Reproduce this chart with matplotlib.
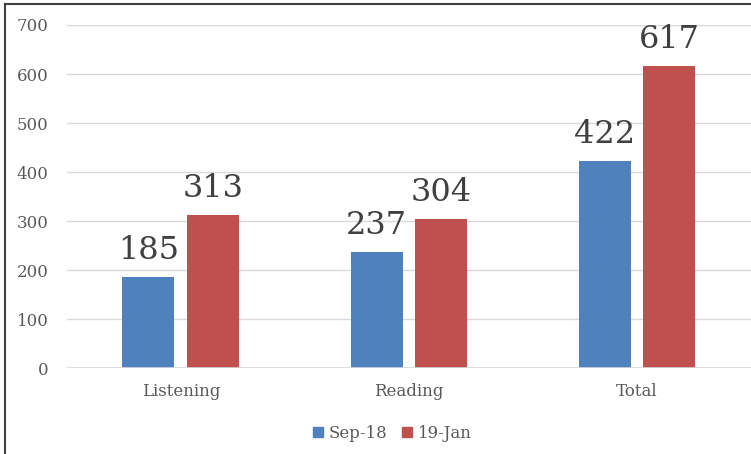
import matplotlib
matplotlib.use('Agg')
import matplotlib.pyplot as plt
from matplotlib.lines import Line2D
import numpy as np

plt.rcParams['font.family'] = ['DejaVu Serif']

categories = ['Listening', 'Reading', 'Total']
series_names = ['Sep-18', '19-Jan']
sep18 = [185, 237, 422]
jan19 = [313, 304, 617]
y_ticks = [0, 100, 200, 300, 400, 500, 600, 700]

blue = '#4f81bd'
red = '#c0504d'
text_color = '#595959'

fig = plt.figure(figsize=(7.51, 4.54), dpi=100)
ax = fig.add_axes([0.089, 0.189, 0.911, 0.756])

x = np.arange(len(categories))
w = 0.228
off = 0.142
b1 = ax.bar(x - off, sep18, width=w, color=blue, zorder=3, label=series_names[0])
b2 = ax.bar(x + off, jan19, width=w, color=red, zorder=3, label=series_names[1])

# data labels above bars
for bars, vals in ((b1, sep18), (b2, jan19)):
    for rect, v in zip(bars, vals):
        ax.annotate(str(v), (rect.get_x() + rect.get_width() / 2, v),
                    xytext=(0, 13), textcoords='offset points',
                    ha='center', va='baseline', fontsize=23, color='#404040')

ax.set_xlim(-0.5, 2.5)
ax.set_ylim(0, 700)
ax.set_yticks(y_ticks)
ax.set_xticks(x)
ax.set_xticklabels(categories)
ax.tick_params(axis='y', length=0, pad=13, labelsize=12, labelcolor=text_color)
ax.tick_params(axis='x', length=0, pad=11, labelsize=12, labelcolor=text_color)
ax.yaxis.grid(True, color='#d9d9d9', linewidth=1, zorder=0)
for s in ax.spines.values():
    s.set_visible(False)
ax.axhline(0, color='#d9d9d9', linewidth=1.2, zorder=4)

handles = [Line2D([], [], marker='s', linestyle='none', markersize=7.5, color=blue),
           Line2D([], [], marker='s', linestyle='none', markersize=7.5, color=red)]
fig.legend(handles, series_names, loc='center', bbox_to_anchor=(0.522, 0.046), ncol=2,
           frameon=False, fontsize=12, labelcolor=text_color, handlelength=0.7,
           handletextpad=0.3, columnspacing=0.8)

# outer frame (left and top edges visible)
fig.add_artist(Line2D([0.007, 0.007], [0, 0.991], color='#404040', linewidth=1.5,
                      transform=fig.transFigure))
fig.add_artist(Line2D([0.007, 1.0], [0.991, 0.991], color='#404040', linewidth=1.5,
                      transform=fig.transFigure))

fig.savefig('out.png', dpi=100, facecolor='white')
